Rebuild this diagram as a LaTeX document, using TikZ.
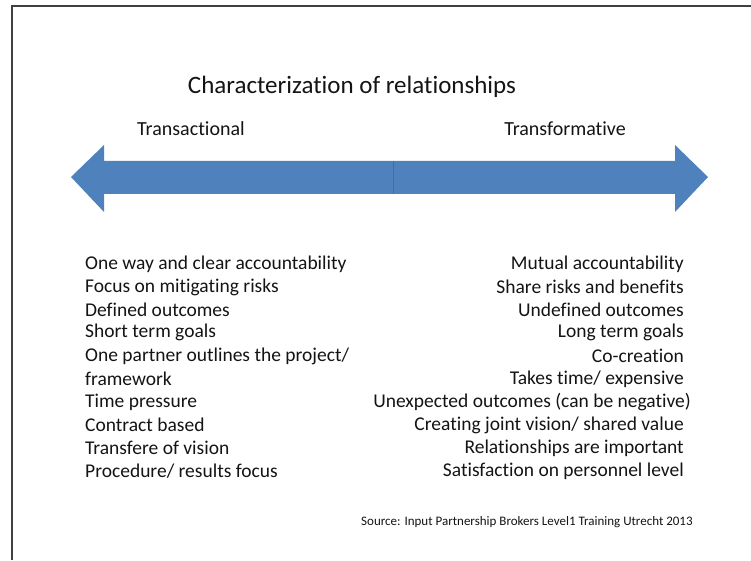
\documentclass[tikz,border=0pt]{standalone}
\usepackage{fontspec}
\setmainfont{Carlito}[Ligatures=NoCommon]
\definecolor{arrowblue}{HTML}{4F81BD}
\definecolor{arrowedge}{HTML}{3F6EA8}
\definecolor{txt}{HTML}{141414}
\begin{document}
\begin{tikzpicture}[x=1pt,y=1pt,
  item/.style={inner sep=0pt, text=txt, font=\fontsize{19.5}{19.5}\selectfont},
  litem/.style={item, anchor=west},
  ritem/.style={item, anchor=east},
  head/.style={inner sep=0pt, text=txt, font=\fontsize{20}{20}\selectfont}]
\useasboundingbox (0,0) rectangle (751,560);
\fill[white] (0,0) rectangle (751,560);
% frame
\draw[line width=1.8pt, color=black!75] (12,0) -- (12,554) -- (751,554);
% arrow
\fill[arrowblue] (71,383) -- (104,415) -- (104,399) -- (675,399) -- (675,415) -- (708,383)
  -- (675,348) -- (675,366) -- (104,366) -- (104,348) -- cycle;
\coordinate (dtop) at (393,399);
\coordinate (dbot) at (393,366);
\draw[arrowedge, line width=0.8pt] (dtop) -- (dbot);
% title
\node[inner sep=0pt, text=txt, font=\fontsize{25}{25}\selectfont] (title) at (352,473) {Characterization of relationships};
\node[head] (ltitle) at (191,431) {Transactional};
\node[head] (rtitle) at (565,431) {Transformative};
% left list
\node[litem] (l1) at (85,296) {One way and clear accountability};
\node[litem] (l2) at (85,273) {Focus on mitigating risks};
\node[litem] (l3) at (85,250) {Defined outcomes};
\node[litem] (l4) at (85,228) {Short term goals};
\node[litem] (l5) at (85,204) {One partner outlines the project/};
\node[litem] (l6) at (85,181) {framework};
\node[litem] (l7) at (85,158) {Time pressure};
\node[litem] (l8) at (85,135) {Contract based};
\node[litem] (l9) at (85,112) {Transfere of vision};
\node[litem] (l10) at (85,89) {Procedure/ results focus};
% right list
\node[ritem] (r1) at (684,296) {Mutual accountability};
\node[ritem] (r2) at (684,273) {Share risks and benefits};
\node[ritem] (r3) at (684,250) {Undefined outcomes};
\node[ritem] (r4) at (684,228) {Long term goals};
\node[ritem] (r5) at (684,204) {Co-creation};
\node[ritem] (r6) at (684,181) {Takes time/ expensive};
\node[ritem] (r7) at (691,158) {Unexpected outcomes (can be negative)};
\node[ritem] (r8) at (684,135) {Creating joint vision/ shared value};
\node[ritem] (r9) at (684,112) {Relationships are important};
\node[ritem] (r10) at (684,89) {Satisfaction on personnel level};
% source
\node[inner sep=0pt, anchor=west, text=txt, font=\fontsize{13}{13}\selectfont] (src) at (361,38) {Source: Input Partnership Brokers Level1 Training Utrecht 2013};
\end{tikzpicture}
\end{document}
